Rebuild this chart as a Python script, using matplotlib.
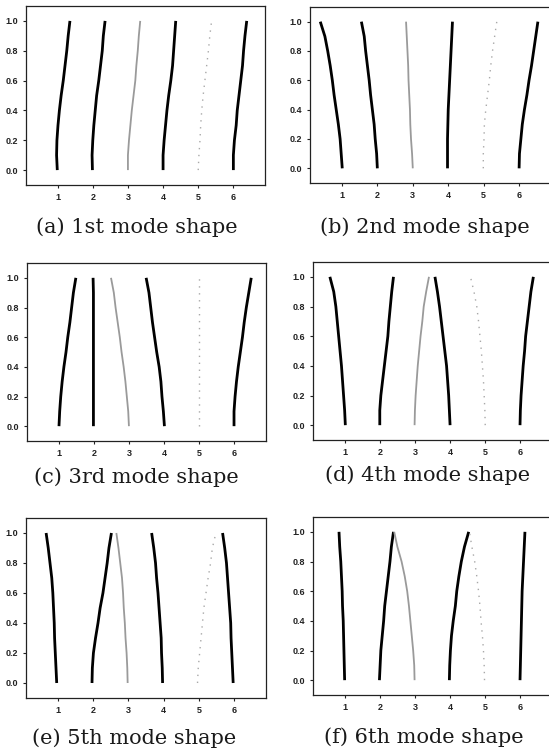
import matplotlib
matplotlib.use("Agg")
import matplotlib.pyplot as plt

# --- data: lateral position of each of the 6 lines
# at the heights below (bottom -> top) for every mode ---
heights = [0.0, 0.1, 0.2, 0.3, 0.4, 0.5, 0.6, 0.7, 0.8, 0.9, 1.0]

mode1 = [
    [0.99, 0.97, 0.98, 1.01, 1.05, 1.10, 1.16, 1.21, 1.26, 1.30, 1.35],
    [1.99, 1.98, 2.00, 2.03, 2.07, 2.11, 2.17, 2.22, 2.27, 2.30, 2.35],
    [3.00, 3.00, 3.03, 3.07, 3.11, 3.16, 3.21, 3.24, 3.28, 3.31, 3.35],
    [4.00, 4.00, 4.03, 4.07, 4.11, 4.16, 4.22, 4.27, 4.30, 4.33, 4.36],
    [5.00, 5.02, 5.05, 5.07, 5.10, 5.14, 5.19, 5.24, 5.29, 5.33, 5.38],
    [6.00, 6.00, 6.03, 6.08, 6.11, 6.16, 6.21, 6.26, 6.29, 6.33, 6.38],
]
mode2 = [
    [1.01, 0.98, 0.95, 0.90, 0.84, 0.78, 0.73, 0.67, 0.60, 0.52, 0.39],
    [2.00, 1.98, 1.94, 1.91, 1.86, 1.81, 1.77, 1.72, 1.67, 1.63, 1.55],
    [3.00, 2.98, 2.95, 2.93, 2.92, 2.90, 2.88, 2.87, 2.85, 2.83, 2.81],
    [3.98, 3.98, 3.98, 3.99, 4.00, 4.02, 4.04, 4.06, 4.08, 4.10, 4.12],
    [4.99, 4.99, 5.01, 5.02, 5.06, 5.11, 5.16, 5.20, 5.25, 5.31, 5.37],
    [6.00, 6.01, 6.05, 6.09, 6.15, 6.22, 6.28, 6.35, 6.41, 6.47, 6.53],
]
mode3 = [
    [1.01, 1.03, 1.06, 1.10, 1.15, 1.21, 1.26, 1.32, 1.37, 1.42, 1.49],
    [1.99, 1.99, 1.99, 1.99, 1.99, 1.99, 1.99, 1.99, 1.99, 1.99, 1.98],
    [3.00, 2.98, 2.94, 2.90, 2.85, 2.79, 2.74, 2.68, 2.62, 2.57, 2.49],
    [4.01, 3.98, 3.94, 3.91, 3.86, 3.79, 3.73, 3.67, 3.62, 3.57, 3.49],
    [5.00, 5.00, 5.00, 5.00, 5.00, 5.00, 5.00, 5.00, 5.00, 5.00, 5.00],
    [5.99, 5.99, 6.02, 6.06, 6.11, 6.17, 6.23, 6.28, 6.34, 6.41, 6.48],
]
mode4 = [
    [1.02, 1.00, 0.97, 0.94, 0.91, 0.87, 0.83, 0.79, 0.75, 0.69, 0.58],
    [2.00, 2.00, 2.03, 2.08, 2.13, 2.18, 2.23, 2.26, 2.30, 2.34, 2.39],
    [2.99, 3.00, 3.02, 3.05, 3.08, 3.12, 3.16, 3.21, 3.25, 3.32, 3.40],
    [4.00, 3.98, 3.96, 3.93, 3.90, 3.85, 3.80, 3.75, 3.70, 3.64, 3.57],
    [5.00, 4.99, 4.97, 4.95, 4.92, 4.89, 4.85, 4.81, 4.76, 4.68, 4.58],
    [5.99, 6.00, 6.02, 6.05, 6.08, 6.12, 6.15, 6.20, 6.25, 6.30, 6.37],
]
mode5 = [
    [0.97, 0.95, 0.93, 0.91, 0.90, 0.88, 0.86, 0.83, 0.78, 0.73, 0.67],
    [1.97, 1.98, 2.01, 2.07, 2.14, 2.20, 2.28, 2.34, 2.40, 2.45, 2.52],
    [2.98, 2.97, 2.95, 2.92, 2.90, 2.87, 2.85, 2.82, 2.77, 2.72, 2.66],
    [3.97, 3.96, 3.94, 3.93, 3.90, 3.87, 3.84, 3.80, 3.77, 3.72, 3.66],
    [4.96, 4.98, 5.02, 5.06, 5.10, 5.14, 5.20, 5.26, 5.33, 5.38, 5.48],
    [5.97, 5.95, 5.93, 5.91, 5.90, 5.87, 5.84, 5.81, 5.78, 5.73, 5.67],
]
mode6 = [
    [1.00, 0.99, 0.98, 0.97, 0.96, 0.94, 0.93, 0.91, 0.89, 0.86, 0.84],
    [1.99, 2.01, 2.03, 2.07, 2.11, 2.14, 2.19, 2.24, 2.29, 2.33, 2.39],
    [2.99, 2.98, 2.95, 2.91, 2.87, 2.83, 2.78, 2.71, 2.62, 2.50, 2.41],
    [3.98, 3.99, 4.01, 4.04, 4.09, 4.15, 4.19, 4.25, 4.32, 4.41, 4.53],
    [4.98, 4.97, 4.95, 4.92, 4.88, 4.85, 4.81, 4.76, 4.70, 4.62, 4.55],
    [5.99, 6.00, 6.01, 6.02, 6.03, 6.04, 6.05, 6.07, 6.09, 6.11, 6.13],
]

modes = [mode1, mode2, mode3, mode4, mode5, mode6]
captions = ["(a) 1st mode shape", "(b) 2nd mode shape", "(c) 3rd mode shape",
            "(d) 4th mode shape", "(e) 5th mode shape", "(f) 6th mode shape"]
xticks = [1, 2, 3, 4, 5, 6]
yticks = [0.0, 0.2, 0.4, 0.6, 0.8, 1.0]

# --- layout (pixels, measured on the 549x751 image) ---
W, H = 549, 751
# left, top, right, bottom of each axes box
boxes = [
    (26, 6, 265, 185), (310, 7, 551, 183),
    (27, 263, 266, 441), (313, 262, 552, 440),
    (26, 518, 266, 698), (313, 517, 552, 695),
]
# caption centre x and baseline y
cap_pos = [(137, 233), (425, 233), (136, 483), (428, 481), (134, 744), (424, 743)]

line_styles = [
    dict(color="black", lw=2.0),
    dict(color="black", lw=2.0),
    dict(color="#9a9a9a", lw=1.3),
    dict(color="black", lw=2.0),
    dict(color="#a8a8a8", lw=1.0, ls=(0, (1, 4))),
    dict(color="black", lw=2.0),
]

fig = plt.figure(figsize=(W / 100, H / 100), dpi=100)

for k, mode in enumerate(modes):
    l, t, r, b = boxes[k]
    ax = fig.add_axes([l / W, 1 - b / H, (r - l) / W, (b - t) / H])
    for i, xs in enumerate(mode):
        ax.plot(xs, heights, solid_capstyle="butt", **line_styles[i])
    ax.set_xlim(0.1, 6.9)
    ax.set_ylim(-0.1, 1.1)
    ax.set_xticks(xticks)
    ax.set_yticks(yticks)
    ax.set_yticklabels([f"{v:.1f}" for v in yticks])
    ax.tick_params(direction="out", length=2.5, width=0.8, pad=3,
                   labelsize=6.5, colors="#222222")
    for lab in ax.get_xticklabels() + ax.get_yticklabels():
        lab.set_family("Liberation Sans")
        lab.set_fontweight("bold")
    for sp in ax.spines.values():
        sp.set_linewidth(0.9)
        sp.set_color("#222222")
    cx, cy = cap_pos[k]
    fig.text(cx / W, 1 - cy / H, captions[k], ha="center", va="baseline",
             family="DejaVu Serif", fontsize=15, color="#1a1a1a")

fig.savefig("out.png", dpi=100)
